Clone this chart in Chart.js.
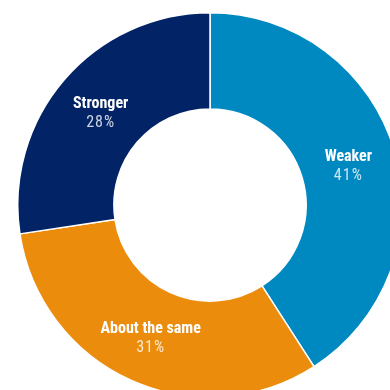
<!DOCTYPE html>
<html>
<head>
<meta charset="utf-8">
<script src="https://cdn.jsdelivr.net/npm/chart.js@4/dist/chart.umd.min.js"></script>
<style>
  html, body { margin: 0; padding: 0; background: #fff; overflow: hidden; }
  body { width: 390px; height: 390px; position: relative; }
  #wrap { position: absolute; left: 17px; top: 12px; width: 386px; height: 386px; }
</style>
</head>
<body>
<div id="wrap"><canvas id="donut"></canvas></div>
<script>
const categories = ['Weaker', 'About the same', 'Stronger'];
const sliceValues = [40.9, 31.7, 27.4];
// percentages as printed on the chart
const shareLabels = ['41%', '31%', '28%'];
const sliceColors = ['#0088c1', '#ec8c0d', '#022366'];

// draws the name and share in the middle of each slice
const sliceLabels = {
    id: 'sliceLabels',
    afterDatasetsDraw(chart) {
        const ctx = chart.ctx;
        const arcs = chart.getDatasetMeta(0).data;
        ctx.save();
        ctx.textAlign = 'center';
        ctx.textBaseline = 'middle';
        arcs.forEach(function(arc, i) {
            const pos = arc.tooltipPosition();
            ctx.fillStyle = '#ffffff';
            ctx.letterSpacing = '0px';
            ctx.font = 'bold 16px "Liberation Sans Narrow", "Roboto Condensed", sans-serif';
            ctx.fillText(categories[i], pos.x, pos.y - 7);
            ctx.fillStyle = 'rgba(255,255,255,0.8)';
            ctx.letterSpacing = '1px';
            ctx.font = '16px "Liberation Sans Narrow", "Roboto Condensed", sans-serif';
            ctx.fillText(shareLabels[i], pos.x, pos.y + 12);
        });
        ctx.restore();
    }
};

new Chart(document.getElementById('donut').getContext('2d'), {
    type: 'doughnut',
    data: {
        labels: categories,
        datasets: [{
            data: sliceValues,
            backgroundColor: sliceColors,
            borderColor: '#ffffff',
            borderWidth: 1.5
        }]
    },
    options: {
        responsive: true,
        maintainAspectRatio: false,
        animation: false,
        cutout: '50%',
        layout: { padding: 0 },
        plugins: {
            legend: { display: false },
            tooltip: { enabled: false }
        }
    },
    plugins: [sliceLabels]
});
</script>
</body>
</html>
